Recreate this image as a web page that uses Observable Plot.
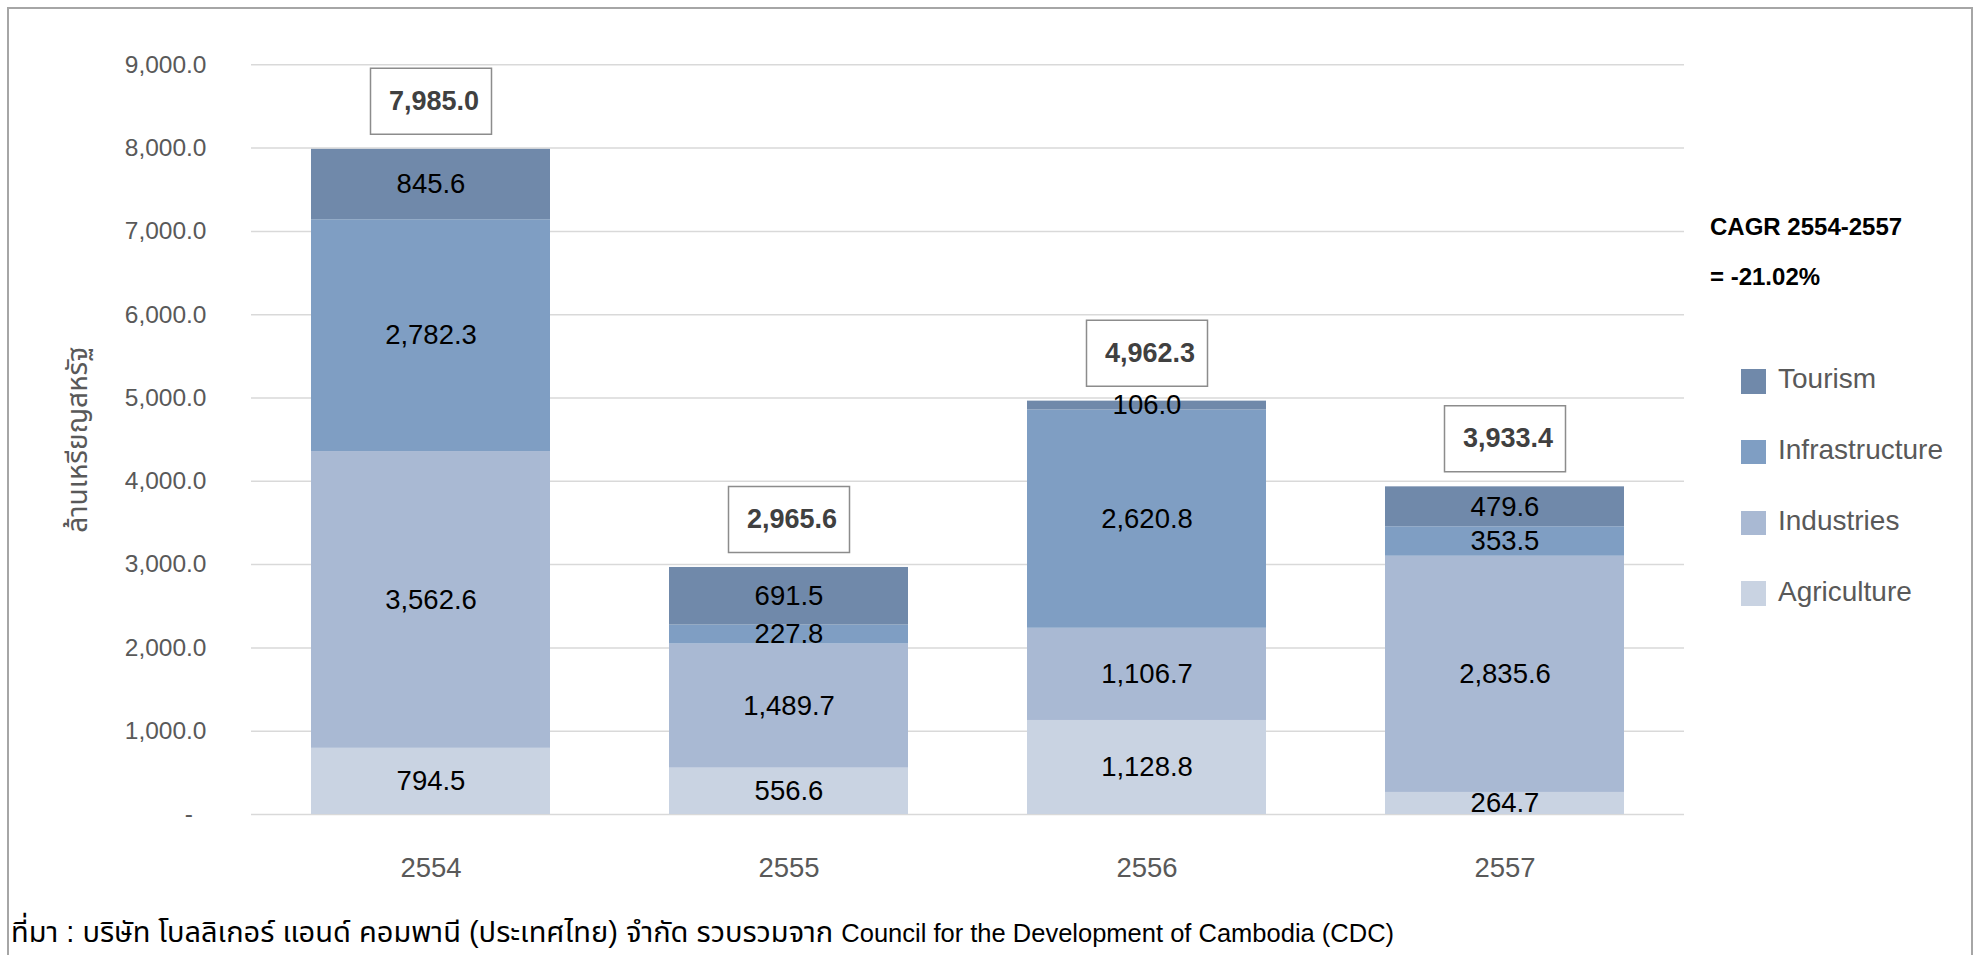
<!DOCTYPE html>
<html><head><meta charset="utf-8">
<script src="https://cdn.jsdelivr.net/npm/d3@7"></script>
<script src="https://cdn.jsdelivr.net/npm/@observablehq/plot@0.6"></script>
<style>
html,body{margin:0;padding:0;background:#fff;overflow:hidden}
#wrap{position:relative;width:1981px;height:955px;overflow:hidden;font-family:"Liberation Sans",Arial,"Noto Sans Thai","Noto Sans",sans-serif}
#frame{position:absolute;left:7px;top:7px;width:1966px;height:1000px;border:2px solid #a6a6a6;box-sizing:border-box}
#chart{position:absolute;left:0;top:0}
.abs{position:absolute;white-space:nowrap;line-height:1}
.cagr{font-weight:bold;font-size:24px;color:#000}
.lg-sq{position:absolute;width:24.5px;height:24.5px}
.lg-tx{position:absolute;font-size:28px;color:#595959;line-height:1;white-space:nowrap}
#caption{font-size:25.5px;color:#000}
#caption .th{font-size:29px}
</style></head><body><div id="wrap"><div id="frame"></div><div id="chart"></div></div>
<script>
const years = ["2554", "2555", "2556", "2557"];
const sectors = ["Agriculture", "Industries", "Infrastructure", "Tourism"];
const agriculture = [794.5, 556.6, 1128.8, 264.7];
const industries = [3562.6, 1489.7, 1106.7, 2835.6];
const infrastructure = [2782.3, 227.8, 2620.8, 353.5];
const tourism = [845.6, 691.5, 106.0, 479.6];
const totals = [7985.0, 2965.6, 4962.3, 3933.4];
const sectorColors = ["#c9d3e2", "#a9b9d3", "#7f9ec3", "#7089aa"];
const yTicks = [0, 1000, 2000, 3000, 4000, 5000, 6000, 7000, 8000, 9000];
const yTitle = "ล้านเหรียญสหรัฐ";
const cagrLines = ["CAGR 2554-2557", "= -21.02%"];
const captionThai = "ที่มา : บริษัท โบลลิเกอร์ แอนด์ คอมพานี (ประเทศไทย) จำกัด รวบรวมจาก ";
const captionLatin = "Council for the Development of Cambodia (CDC)";

const seriesValues = [agriculture, industries, infrastructure, tourism];
const rows = years.flatMap((yr, i) => sectors.map((s, j) => ({year: yr, sector: s, value: seriesValues[j][i]})));
const totalRows = years.map((yr, i) => ({year: yr, total: totals[i]}));
const fmt = d3.format(",.1f");
const boxSymbol = {draw(ctx) {
  ctx.moveTo(-60.5, -33); ctx.lineTo(60.5, -33); ctx.lineTo(60.5, 33); ctx.lineTo(-60.5, 33); ctx.closePath();
}};

const chart = Plot.plot({
  width: 1981, height: 900,
  marginTop: 64.3, marginBottom: 86, marginLeft: 251, marginRight: 297,
  style: {fontFamily: '"Liberation Sans", Arial, "Noto Sans Thai", sans-serif', background: "transparent", overflow: "visible"},
  x: {domain: years, paddingInner: 0.333, paddingOuter: 0.1667, label: null},
  y: {domain: [0, 9000], label: null},
  color: {domain: sectors, range: sectorColors},
  marks: [
    Plot.gridY(yTicks, {stroke: "#d9d9d9", strokeOpacity: 1, strokeWidth: 1.5}),
    Plot.axisY(yTicks, {tickSize: 0, tickPadding: 45, tickFormat: d => d === 0 ? "-\u2007" : fmt(d), fontSize: 24.5, color: "#595959", label: null}),
    Plot.axisX({tickSize: 0, tickPadding: 43, fontSize: 27.5, color: "#595959", label: null}),
    Plot.barY(rows, {x: "year", y: "value", fill: "sector", order: sectors}),
    Plot.text(rows, Plot.stackY({x: "year", y: "value", z: "sector", order: sectors, text: d => fmt(d.value), fontSize: 27.5, fill: "#000", lineAnchor: "middle"})),
    Plot.dot(totalRows, {x: "year", y: "total", symbol: boxSymbol, r: 10, fill: "white", stroke: "#8c8c8c", strokeWidth: 1.5, dy: -48}),
    Plot.text(totalRows, {x: "year", y: "total", text: d => fmt(d.total), dy: -48, dx: 3, fontWeight: "bold", fontSize: 27, fill: "#404040", lineAnchor: "middle"}),
    Plot.text([yTitle], {frameAnchor: "left", dx: -173, rotate: -90, text: d => d, fontSize: 28, fill: "#595959", textAnchor: "middle", lineAnchor: "middle"})
  ]
});
document.getElementById("chart").appendChild(chart);

const wrap = document.getElementById("wrap");
cagrLines.forEach((t, i) => {
  const d = document.createElement("div");
  d.className = "abs cagr";
  d.style.left = "1710px";
  d.style.top = (214.7 + i * 50) + "px";
  d.textContent = t;
  wrap.appendChild(d);
});
const legendOrder = sectors.slice().reverse();
legendOrder.forEach((s, i) => {
  const top = 369 + i * 70.8;
  const sq = document.createElement("div");
  sq.className = "lg-sq";
  sq.style.left = "1741px";
  sq.style.top = top + "px";
  sq.style.background = sectorColors[sectors.indexOf(s)];
  wrap.appendChild(sq);
  const tx = document.createElement("div");
  tx.className = "lg-tx";
  tx.style.left = "1778px";
  tx.style.top = (top + 20 - 23.7) + "px";
  tx.textContent = s;
  wrap.appendChild(tx);
});
const cap = document.createElement("div");
cap.id = "caption";
cap.className = "abs";
cap.style.left = "11px";
cap.style.top = "918px";
const th = document.createElement("span");
th.className = "th";
th.textContent = captionThai;
const la = document.createElement("span");
la.textContent = captionLatin;
cap.appendChild(th);
cap.appendChild(la);
wrap.appendChild(cap);
</script></body></html>
